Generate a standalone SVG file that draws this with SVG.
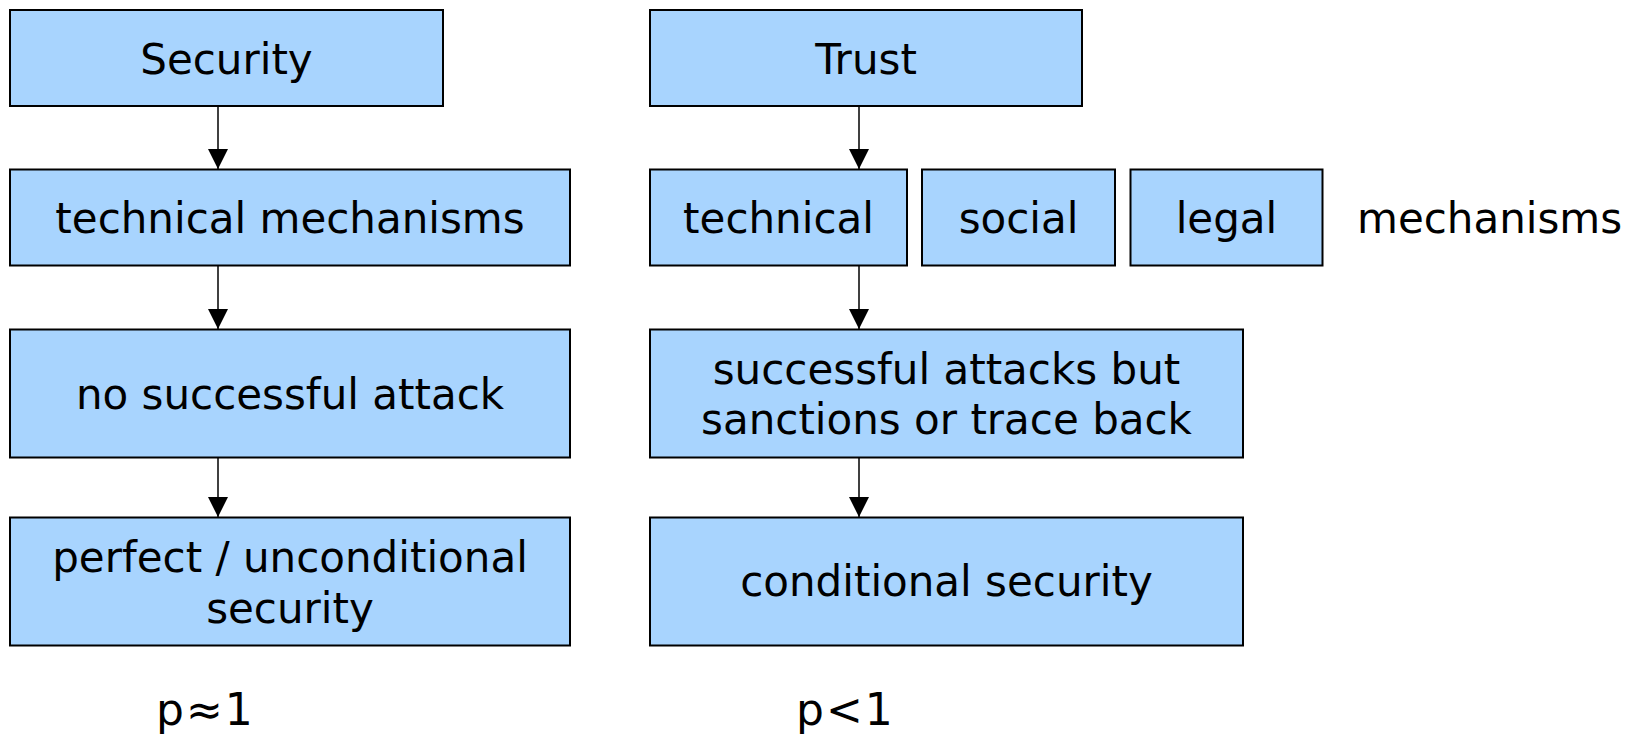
<svg xmlns="http://www.w3.org/2000/svg" width="1638" height="739" viewBox="0 0 1638 739">
<defs>
<style>
.box{fill:#a8d4fe;stroke:#000;stroke-width:2}
.t{font-family:"DejaVu Sans",Verdana,sans-serif;font-size:42px;fill:#000;text-anchor:middle}
.p{font-family:"DejaVu Sans",Verdana,sans-serif;font-size:44px;fill:#000;letter-spacing:2px}
.c{stroke:#000;stroke-width:1.5;fill:none;marker-end:url(#ah)}
</style>
<marker id="ah" viewBox="0 0 20 20" refX="20" refY="10" markerWidth="20" markerHeight="20" markerUnits="userSpaceOnUse" orient="auto">
<path d="M0,0 L20,10 L0,20 Z" fill="#000"/>
</marker>
</defs>
<rect width="1638" height="739" fill="#fff"/>
<g id="connectors">
<line class="c" x1="218" y1="106" x2="218" y2="169"/>
<line class="c" x1="218" y1="265" x2="218" y2="329"/>
<line class="c" x1="218" y1="453" x2="218" y2="517"/>
<line class="c" x1="859" y1="106" x2="859" y2="169"/>
<line class="c" x1="859" y1="265" x2="859" y2="329"/>
<line class="c" x1="859" y1="453" x2="859" y2="517"/>
</g>
<g id="security"><rect class="box" x="10" y="10" width="433" height="96"/><text class="t" x="226.5" y="74">Security</text></g>
<g id="tech-mech"><rect class="box" x="10" y="169.5" width="560" height="96"/><text class="t" x="290" y="233">technical mechanisms</text></g>
<g id="no-attack"><rect class="box" x="10" y="329.5" width="560" height="128"/><text class="t" x="290" y="409">no successful attack</text></g>
<g id="perfect"><rect class="box" x="10" y="517.5" width="560" height="128"/><text class="t" x="290" y="571.5">perfect / unconditional</text><text class="t" x="290" y="622.5">security</text></g>
<g id="trust"><rect class="box" x="650" y="10" width="432" height="96"/><text class="t" x="866" y="74">Trust</text></g>
<g id="technical"><rect class="box" x="650" y="169.5" width="257" height="96"/><text class="t" x="778.5" y="233">technical</text></g>
<g id="social"><rect class="box" x="922" y="169.5" width="193" height="96"/><text class="t" x="1018.5" y="233">social</text></g>
<g id="legal"><rect class="box" x="1130.5" y="169.5" width="192" height="96"/><text class="t" x="1226.5" y="233">legal</text></g>
<g id="mechanisms-label"><text class="t" x="1357" y="233" style="text-anchor:start">mechanisms</text></g>
<g id="successful"><rect class="box" x="650" y="329.5" width="593" height="128"/><text class="t" x="946.5" y="384">successful attacks but</text><text class="t" x="946.5" y="434">sanctions or trace back</text></g>
<g id="conditional"><rect class="box" x="650" y="517.5" width="593" height="128"/><text class="t" x="946.5" y="596">conditional security</text></g>
<g id="p1"><text class="p" x="156" y="725">p≈1</text></g>
<g id="p2"><text class="p" x="796" y="725">p&lt;1</text></g>
</svg>
